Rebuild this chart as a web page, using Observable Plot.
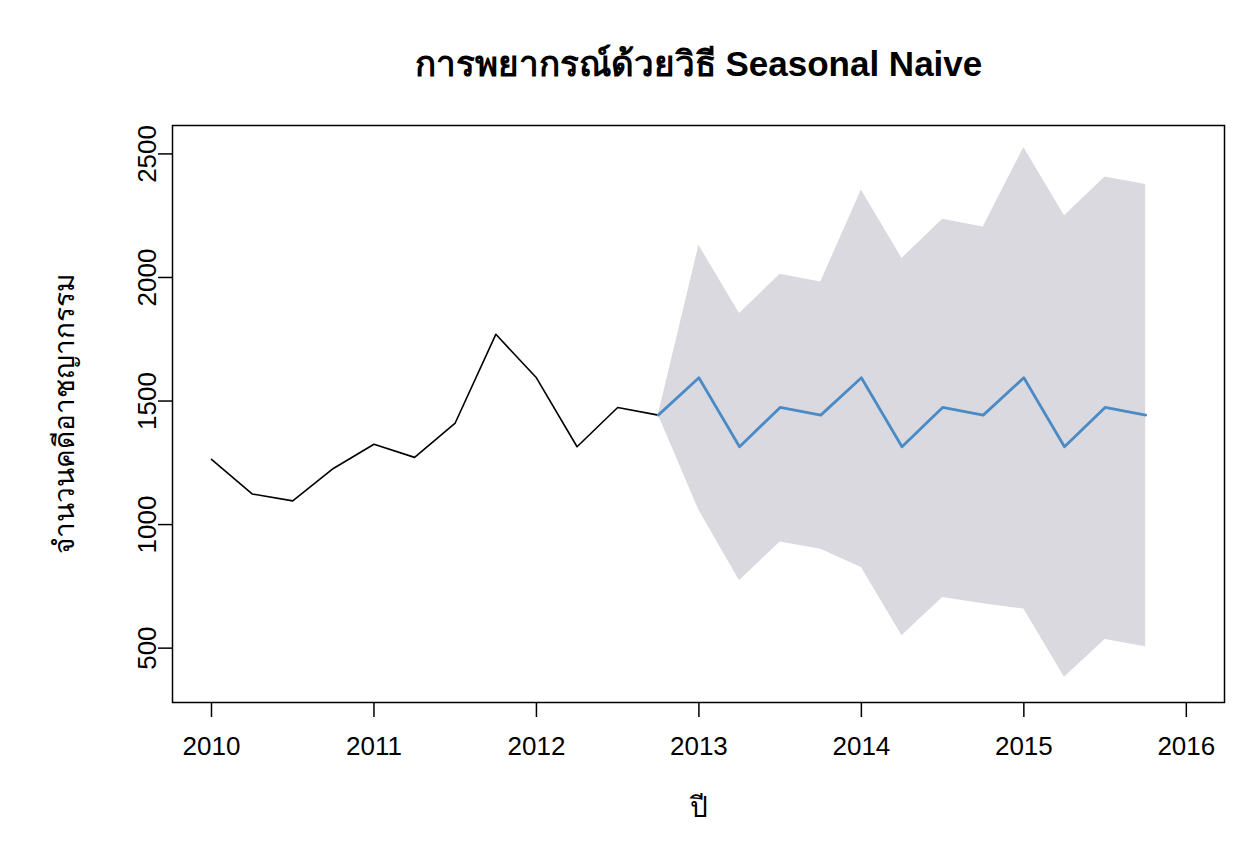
<!DOCTYPE html>
<html>
<head>
<meta charset="utf-8">
<script src="https://cdn.jsdelivr.net/npm/d3@7"></script>
<script src="https://cdn.jsdelivr.net/npm/@observablehq/plot@0.6"></script>
<style>
  html, body { margin: 0; padding: 0; background: #fff; }
  #chart svg { display: block; }
</style>
</head>
<body>
<div id="chart"></div>
<script>
// Historical quarterly series (2010 Q1 – 2012 Q4)
const histTime = [2010, 2010.25, 2010.5, 2010.75, 2011, 2011.25, 2011.5, 2011.75, 2012, 2012.25, 2012.5, 2012.75];
const histValue = [1264, 1124, 1096, 1227, 1325, 1272, 1411, 1770, 1594, 1315, 1474, 1443];

// Seasonal naive forecast (starting from last observation)
const fcTime = [2012.75, 2013, 2013.25, 2013.5, 2013.75, 2014, 2014.25, 2014.5, 2014.75, 2015, 2015.25, 2015.5, 2015.75];
const fcMean = [1443, 1594, 1315, 1474, 1443, 1594, 1315, 1474, 1443, 1594, 1315, 1474, 1443];
const fcLower = [1443, 1058, 773, 930, 900, 826, 550, 705, 680, 658, 382, 535, 506];
const fcUpper = [1443, 2130, 1854, 2013, 1982, 2354, 2077, 2236, 2204, 2526, 2250, 2407, 2376];

// Axis ticks and texts
const xTicks = [2010, 2011, 2012, 2013, 2014, 2015, 2016];
const yTicks = [500, 1000, 1500, 2000, 2500];
const titleText = "การพยากรณ์ด้วยวิธี Seasonal Naive";
const xLabel = "ปี";
const yLabel = "จำนวนคดีอาชญากรรม";

const hist = histTime.map((t, i) => ({t, v: histValue[i]}));
const fc = fcTime.map((t, i) => ({t, mean: fcMean[i], lo: fcLower[i], hi: fcUpper[i]}));

const font = "'Liberation Sans', Arial, Helvetica, sans-serif";

const chart = Plot.plot({
  width: 1260,
  height: 848,
  marginTop: 125,
  marginRight: 36,
  marginBottom: 146,
  marginLeft: 172,
  style: {fontFamily: font, background: "#fff", color: "#000"},
  x: {domain: [2009.76, 2016.235]},
  y: {domain: [280, 2615]},
  marks: [
    Plot.areaY(fc, {x: "t", y1: "lo", y2: "hi", fill: "#dad9e0", curve: "linear"}),
    Plot.lineY(hist, {x: "t", y: "v", stroke: "#000", strokeWidth: 1.6}),
    Plot.lineY(fc, {x: "t", y: "mean", stroke: "#4a8ac5", strokeWidth: 2.8}),
    Plot.frame({stroke: "#000", strokeWidth: 1.5}),
    Plot.axisX({ticks: xTicks, tickSize: 15, tickPadding: 19, tickFormat: d => String(d), fontSize: 26, label: null, strokeWidth: 1.5}),
    Plot.axisY({ticks: yTicks, tickSize: 14, tickFormat: () => "", label: null, strokeWidth: 1.5}),
    Plot.text(yTicks, {y: d => d, frameAnchor: "left", dx: -25, rotate: -90, textAnchor: "middle", lineAnchor: "middle", text: d => String(d), fontSize: 26, fill: "#000"}),
    Plot.text([xLabel], {frameAnchor: "bottom", dy: 106, textAnchor: "middle", lineAnchor: "middle", text: d => d, fontSize: 28, fill: "#000"}),
    Plot.text([yLabel], {frameAnchor: "left", dx: -107, rotate: -90, textAnchor: "middle", lineAnchor: "middle", text: d => d, fontSize: 28, fill: "#000"}),
    Plot.text([titleText], {frameAnchor: "top", dy: -61, textAnchor: "middle", lineAnchor: "middle", text: d => d, fontSize: 35, fontWeight: "bold", fill: "#000"})
  ]
});
document.getElementById("chart").appendChild(chart);
</script>
</body>
</html>
